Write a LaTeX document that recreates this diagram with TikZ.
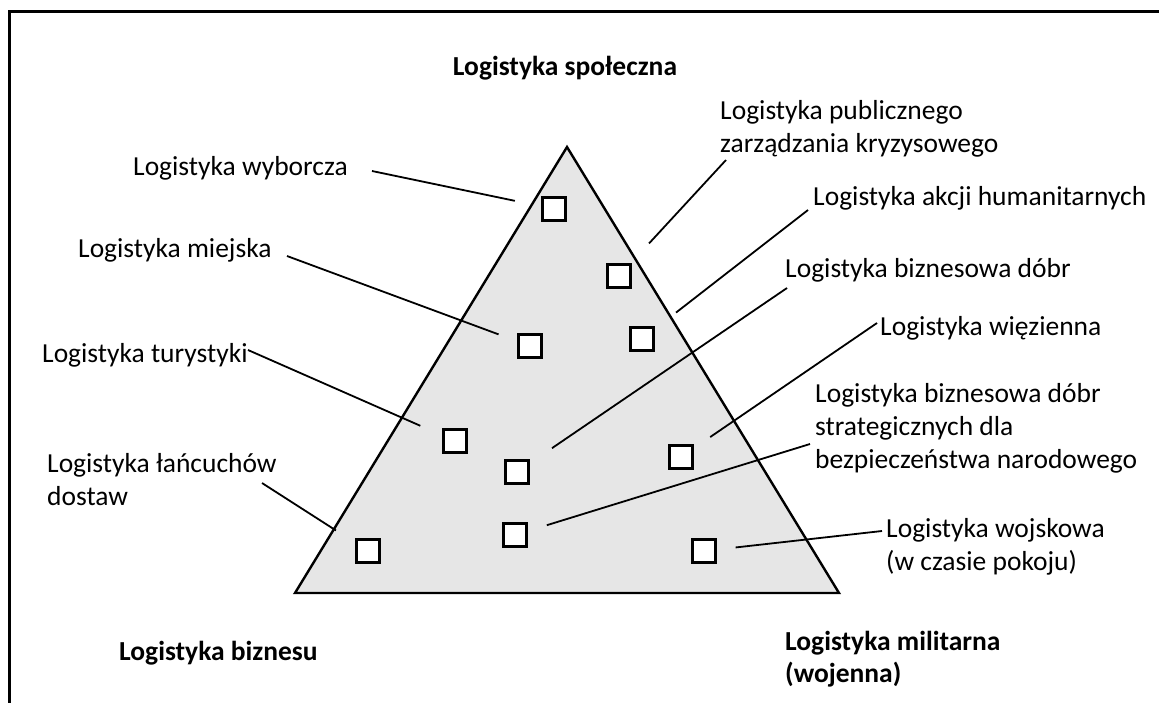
\documentclass[tikz,border=0pt]{standalone}
\usepackage{fontspec}
\setmainfont{Carlito}
\usetikzlibrary{positioning}
\definecolor{trigray}{RGB}{230,230,230}

\tikzset{
  lbl/.style={anchor=base west,inner sep=0pt,align=left,font=\fontsize{27.5}{33}\selectfont},
  head/.style={lbl,font=\fontsize{27.5}{32}\selectfont\bfseries},
  box/.style={draw,line width=2.4pt,fill=white,minimum size=23pt,inner sep=0pt},
  link/.style={line width=1.8pt}
}

\begin{document}
\begin{tikzpicture}[x=1pt,y=-1pt]
\useasboundingbox (0,0) rectangle (1159,702);
% ramka
\draw[line width=3pt] (9,720) -- (9,11) -- (1180,11);
% trojkat
\draw[line width=2.4pt,fill=trigray,line join=miter] (567,147) -- (295,593) -- (839,593) -- cycle;
% naglowki (base = ostatnia linia)
\node[head,anchor=base] (spol) at (565,75) {Logistyka społeczna};
\node[head] (bizn) at (119,660) {Logistyka biznesu};
\node[head] (mil) at (785,682) {Logistyka militarna\\(wojenna)};
% etykiety
\node[lbl] (wyb) at (133,175) {Logistyka wyborcza};
\node[lbl] (pub) at (720,152) {Logistyka publicznego\\zarządzania kryzysowego};
\node[lbl] (hum) at (813,205) {Logistyka akcji humanitarnych};
\node[lbl] (mie) at (78,257) {Logistyka miejska};
\node[lbl] (dob) at (785,277) {Logistyka biznesowa dóbr};
\node[lbl] (wie) at (880,335) {Logistyka więzienna};
\node[lbl] (tur) at (42,362) {Logistyka turystyki};
\node[lbl] (str) at (815,468) {Logistyka biznesowa dóbr\\strategicznych dla\\bezpieczeństwa narodowego};
\node[lbl] (lan) at (47,505) {Logistyka łańcuchów\\dostaw};
\node[lbl] (woj) at (886,570) {Logistyka wojskowa\\(w czasie pokoju)};
% kwadraty
\node[box] (s1) at (554,209) {};
\node[box] (s2) at (619,276) {};
\node[box] (s3) at (642,339) {};
\node[box] (s4) at (530,346) {};
\node[box] (s5) at (455,441) {};
\node[box] (s6) at (517,472) {};
\node[box] (s7) at (515,535) {};
\node[box] (s8) at (368,551) {};
\node[box] (s9) at (681,457) {};
\node[box] (s10) at (704,551) {};
% wolne konce linii
\coordinate (c1) at (372,171);
\coordinate (c2) at (726,160);
\coordinate (c3) at (808,210);
\coordinate (c4) at (287,256);
\coordinate (c5) at (248,350);
\coordinate (c6) at (787,288);
\coordinate (c7) at (810,444);
\coordinate (c8) at (262,483);
\coordinate (c9) at (877,323);
\coordinate (c10) at (882,531);
\foreach \a/\b/\g in {c1/s1/27,c2/s2/27,c3/s3/27,c4/s4/20,c5/s5/24,c6/s6/27,c7/s7/20,c8/s8/23,c9/s9/20,c10/s10/19}
  \draw[link,shorten >=\g pt] (\a) -- (\b);
\end{tikzpicture}
\end{document}
